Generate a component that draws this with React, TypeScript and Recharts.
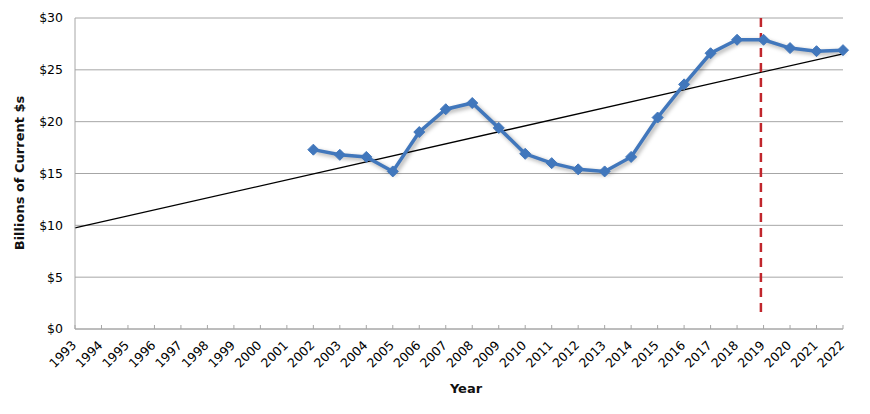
import React from 'react';
import { LineChart, Line, XAxis, YAxis, CartesianGrid, ReferenceLine } from 'recharts';

const years = [1993, 1994, 1995, 1996, 1997, 1998, 1999, 2000, 2001, 2002, 2003, 2004, 2005, 2006, 2007, 2008, 2009, 2010, 2011, 2012, 2013, 2014, 2015, 2016, 2017, 2018, 2019, 2020, 2021, 2022];
const values: (number | null)[] = [null, null, null, null, null, null, null, null, null, 17.3, 16.8, 16.6, 15.2, 19.0, 21.2, 21.8, 19.4, 16.9, 16.0, 15.4, 15.2, 16.6, 20.4, 23.6, 26.6, 27.9, 27.9, 27.1, 26.8, 26.9];
const trendEnds: Record<number, number> = { 1993: 9.75, 2022: 26.55 };
const yTicks = [0, 5, 10, 15, 20, 25, 30];
const forecastMarkYear = 2018.9;

const data = years.map((y, i) => ({
  year: y,
  value: values[i],
  trend: trendEnds[y] !== undefined ? trendEnds[y] : null,
}));

const FONT = '"DejaVu Sans", sans-serif';

const XTick = (props: any) => {
  const { x, y, payload } = props;
  return (
    <g>
      <line x1={x} y1={y - 4} x2={x} y2={y} stroke="#a6a6a6" strokeWidth={1} />
      <text
        x={x + 2}
        y={y + 17}
        transform={`rotate(-45, ${x + 2}, ${y + 17})`}
        textAnchor="end"
        fontFamily={FONT}
        fontSize={12.5}
        fill="#000"
      >
        {payload.value}
      </text>
    </g>
  );
};

export default function App() {
  return (
    <div style={{ position: 'fixed', left: 0, top: 0, width: 870, height: 414, background: '#fff' }}>
      <LineChart width={870} height={414} data={data} margin={{ top: 18, right: 27, bottom: 0, left: 0 }}>
        <CartesianGrid vertical={false} stroke="#a6a6a6" strokeWidth={1} />
        <XAxis
          dataKey="year"
          type="number"
          domain={[1993, 2022]}
          ticks={years}
          interval={0}
          height={85}
          tickSize={0}
          tickMargin={0}
          tickLine={false}
          axisLine={{ stroke: '#a6a6a6', strokeWidth: 1 }}
          tick={<XTick />}
          label={{
            value: 'Year',
            content: () => (
              <text x={466} y={393} textAnchor="middle" fontFamily={FONT} fontWeight="bold" fontSize={13} fill="#111">
                Year
              </text>
            ),
          }}
        />
        <YAxis
          type="number"
          domain={[0, 30]}
          ticks={yTicks}
          width={75}
          tickSize={0}
          tickMargin={12}
          tickLine={false}
          axisLine={{ stroke: '#a6a6a6', strokeWidth: 1 }}
          tickFormatter={(v: number) => `$${v}`}
          tick={{ fontFamily: FONT, fontSize: 12.5, fill: '#000' }}
          label={{
            value: 'Billions of Current $s',
            content: () => (
              <text
                x={19}
                y={173}
                transform="rotate(-90, 19, 173)"
                textAnchor="middle"
                dominantBaseline="central"
                fontFamily={FONT}
                fontWeight="bold"
                fontSize={13}
                fill="#111"
              >
                Billions of Current $s
              </text>
            ),
          }}
        />
        <Line
          dataKey="trend"
          stroke="#000"
          strokeWidth={1.3}
          dot={false}
          connectNulls
          isAnimationActive={false}
        />
        <ReferenceLine
          segment={[{ x: forecastMarkYear, y: 30 }, { x: forecastMarkYear, y: 1.35 }]}
          stroke="#c0262c"
          strokeWidth={2.5}
          strokeDasharray="9 6"
        />
        <Line
          dataKey="value"
          stroke="#4177bc"
          strokeWidth={3.5}
          isAnimationActive={false}
          style={{ filter: 'drop-shadow(2px 2px 2px rgba(0,0,0,0.35))' }}
          dot={(p: any) => {
            if (p.value == null || p.cy == null) return <g key={p.key} />;
            const r = 5.5;
            return (
              <path
                key={p.key}
                d={`M${p.cx},${p.cy - r} L${p.cx + r},${p.cy} L${p.cx},${p.cy + r} L${p.cx - r},${p.cy} Z`}
                fill="#4177bc"
                stroke="#4177bc"
                strokeWidth={1}
              />
            );
          }}
          activeDot={false}
        />
      </LineChart>
    </div>
  );
}
